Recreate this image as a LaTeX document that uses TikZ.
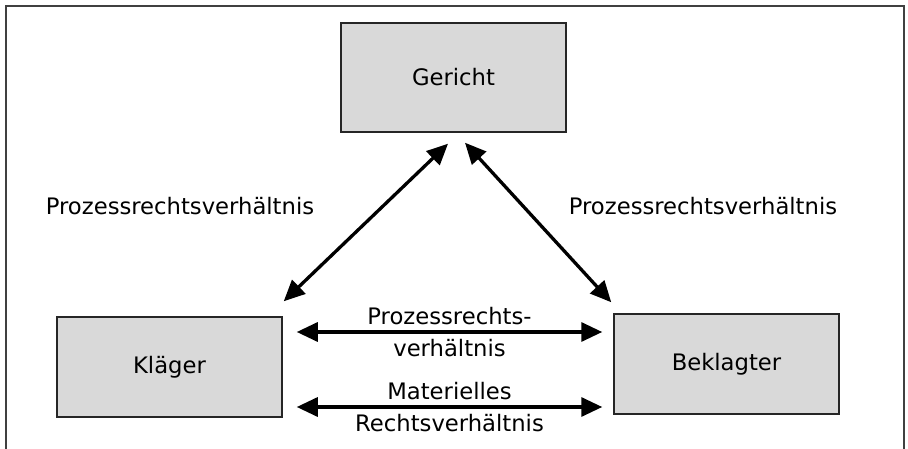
\documentclass[tikz,border=0pt]{standalone}
\usepackage{fontspec}
\setmainfont{DejaVu Sans}
\usetikzlibrary{arrows.meta, positioning}
\newcommand{\relfont}{\fontsize{22.7}{27}\selectfont}
\tikzset{
    partyBox/.style={rectangle, draw=black!85, fill=gray!30, line width=1.5pt, minimum width=225pt, minimum height=100pt, inner sep=0pt, font=\relfont},
    relArrow/.style={{Triangle[length=21pt, width=19pt]}-{Triangle[length=21pt, width=19pt]}, line width=3.3pt},
    relLabel/.style={font=\relfont, inner sep=6pt},
    frameLine/.style={draw=black!75, line width=2pt},
}
\newcommand{\drawRel}[4]{
    \draw[relArrow] (#1) -- node[relLabel, above] {#3} node[relLabel, below] {#4} (#2);
}

\begin{document}
\begin{tikzpicture}[x=1pt, y=-1pt]
        \useasboundingbox (0,0) rectangle (908,449);
        \draw[frameLine] (6,449) -- (6,6) -- (904,6) -- (904,449);

        \node[partyBox, minimum height=109pt] (Gericht) at (453.5, 77.5) {Gericht};
        \node[partyBox] (Klaeger) at (169.5, 367) {Kläger};
        \node[partyBox] (Beklagter) at (726.5, 364) {Beklagter};

        % Prozessrechtsverhaeltnis zum Gericht
        \draw[relArrow] ([shift={(1,-15)}]Klaeger.north east) -- ([shift={(-5.5,11)}]Gericht.south);
        \draw[relArrow] ([shift={(11.5,10)}]Gericht.south) -- ([shift={(-2,-11)}]Beklagter.north west);
        \node[relLabel] (lblLeft) at (180, 206) {Prozessrechtsverhältnis};
        \node[relLabel] (lblRight) at (703, 206) {Prozessrechtsverhältnis};

        % zwischen den Parteien
        \drawRel{[shift={(14,-35)}]Klaeger.east}{[shift={(-11,-32)}]Beklagter.west}{Prozessrechts-}{verhältnis}
        \drawRel{[shift={(14,40)}]Klaeger.east}{[shift={(-11,43)}]Beklagter.west}{Materielles}{Rechtsverhältnis}

    \end{tikzpicture}
\end{document}
